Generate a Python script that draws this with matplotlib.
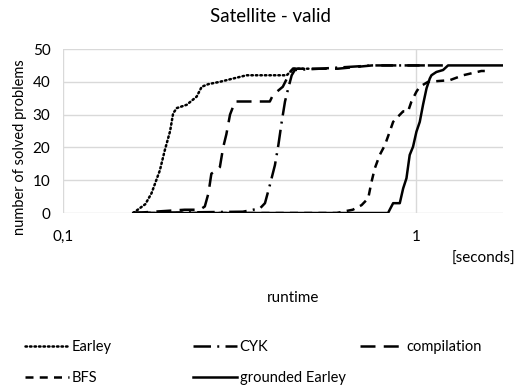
import matplotlib.pyplot as plt
from matplotlib.ticker import FixedLocator, FixedFormatter, NullLocator

plt.rcParams['font.family'] = ['Lato', 'DejaVu Sans']

# runtime [s] / number of solved problems
earley_t = [0.158, 0.171, 0.178, 0.188, 0.194, 0.201, 0.205, 0.210, 0.224, 0.239,
            0.247, 0.258, 0.278, 0.303, 0.331, 0.430, 0.439, 0.447, 0.50]
earley_n = [0, 2.7, 6, 13, 19, 25, 30.4, 32, 33, 35.5,
            38.5, 39.3, 40, 41, 42, 42, 43, 44, 44]

cyk_t = [0.158, 0.323, 0.361, 0.373, 0.385, 0.398, 0.407, 0.416, 0.425, 0.434,
         0.444, 0.453, 0.533, 0.753, 1.10]
cyk_n = [0, 0.4, 1.4, 3, 8.5, 14.6, 20.7, 27.8, 34, 38,
         42, 43.6, 44, 45, 45]

compilation_t = [0.158, 0.221, 0.244, 0.252, 0.258, 0.263, 0.272, 0.278, 0.284, 0.290,
                 0.297, 0.307, 0.385, 0.393, 0.419, 0.433, 0.447, 0.60, 0.75, 1.20]
compilation_n = [0, 1, 1, 2, 6, 12, 13, 14, 20, 24,
                 30, 34, 34, 36, 38.5, 41.6, 44, 44, 45, 45]

bfs_t = [0.158, 0.596, 0.619, 0.661, 0.700, 0.731, 0.747, 0.763, 0.788, 0.815,
         0.841, 0.860, 0.888, 0.918, 0.948, 0.969, 1.001, 1.023, 1.080, 1.244,
         1.357, 1.528, 1.563]
bfs_n = [0, 0, 0.4, 1, 2.4, 4.5, 9.5, 13.6, 17.7, 20.7,
         24.8, 27.8, 29.4, 31, 31, 34, 37, 38.5, 40, 40.5,
         42, 43.3, 43.3]

grounded_t = [0.158, 0.832, 0.841, 0.860, 0.898, 0.918, 0.938, 0.958, 0.979, 1.001,
              1.023, 1.045, 1.069, 1.092, 1.104, 1.140, 1.191, 1.230, 1.757]
grounded_n = [0, 0, 1, 3, 3, 7.5, 10.6, 17.7, 20.2, 24.8,
              27.8, 33, 38, 41, 42, 43, 43.6, 45, 45]

x_ticks = [0.1, 1]
x_tick_labels = ['0,1', '1']
y_ticks = [0, 10, 20, 30, 40, 50]

fig = plt.figure(figsize=(5.19, 3.90), dpi=100)
ax = fig.add_axes([0.1214, 0.4538, 0.8478, 0.4205])

lw = 1.8
l_earley, = ax.plot(earley_t, earley_n, color='black', lw=lw, linestyle=(0, (0.6, 1.2)),
                    dash_capstyle='round', label='Earley')
l_cyk, = ax.plot(cyk_t, cyk_n, color='black', lw=lw, linestyle=(0, (7, 2.5, 0.8, 2.5)),
                 label='CYK')
l_comp, = ax.plot(compilation_t, compilation_n, color='black', lw=lw,
                  linestyle=(0, (6, 3.3)), label='compilation')
l_bfs, = ax.plot(bfs_t, bfs_n, color='black', lw=lw, linestyle=(0, (3.2, 2.5)),
                 label='BFS')
l_ground, = ax.plot(grounded_t, grounded_n, color='black', lw=lw, linestyle='-',
                    label='grounded Earley')

ax.set_xscale('log')
ax.set_xlim(0.1, 1.76)
ax.set_ylim(0, 50)
ax.xaxis.set_major_locator(FixedLocator(x_ticks))
ax.xaxis.set_major_formatter(FixedFormatter(x_tick_labels))
ax.xaxis.set_minor_locator(NullLocator())
ax.set_yticks(y_ticks)
ax.tick_params(length=0, labelsize=11, pad=9)
ax.tick_params(axis='x', pad=12)
ax.grid(True, color='#d9d9d9', lw=1)
ax.set_axisbelow(True)
for s in ax.spines.values():
    s.set_visible(False)

fig.text(20 / 519, 1 - 147 / 390, 'number of solved problems', rotation=90,
         ha='center', va='center', fontsize=10.5)
fig.text(270 / 519, 1 - 17 / 390, 'Satellite - valid', ha='center', va='center',
         fontsize=13.5)
fig.text(515 / 519, 1 - 259 / 390, '[seconds]', ha='right', va='center', fontsize=11)
fig.text(293 / 519, 1 - 298 / 390, 'runtime', ha='center', va='center', fontsize=11)

# three legend columns, placed like the original
columns = [([l_earley, l_bfs], 25), ([l_cyk, l_ground], 193), ([l_comp], 360)]
for handles, x0 in columns:
    fig.legend(handles, [h.get_label() for h in handles], loc='upper left',
               bbox_to_anchor=(x0 / 519, 1 - 340 / 390), frameon=False,
               fontsize=10.5, handlelength=3.0, handletextpad=0.2,
               labelspacing=1.15, borderpad=0, borderaxespad=0)

fig.savefig('out.png', dpi=100)
